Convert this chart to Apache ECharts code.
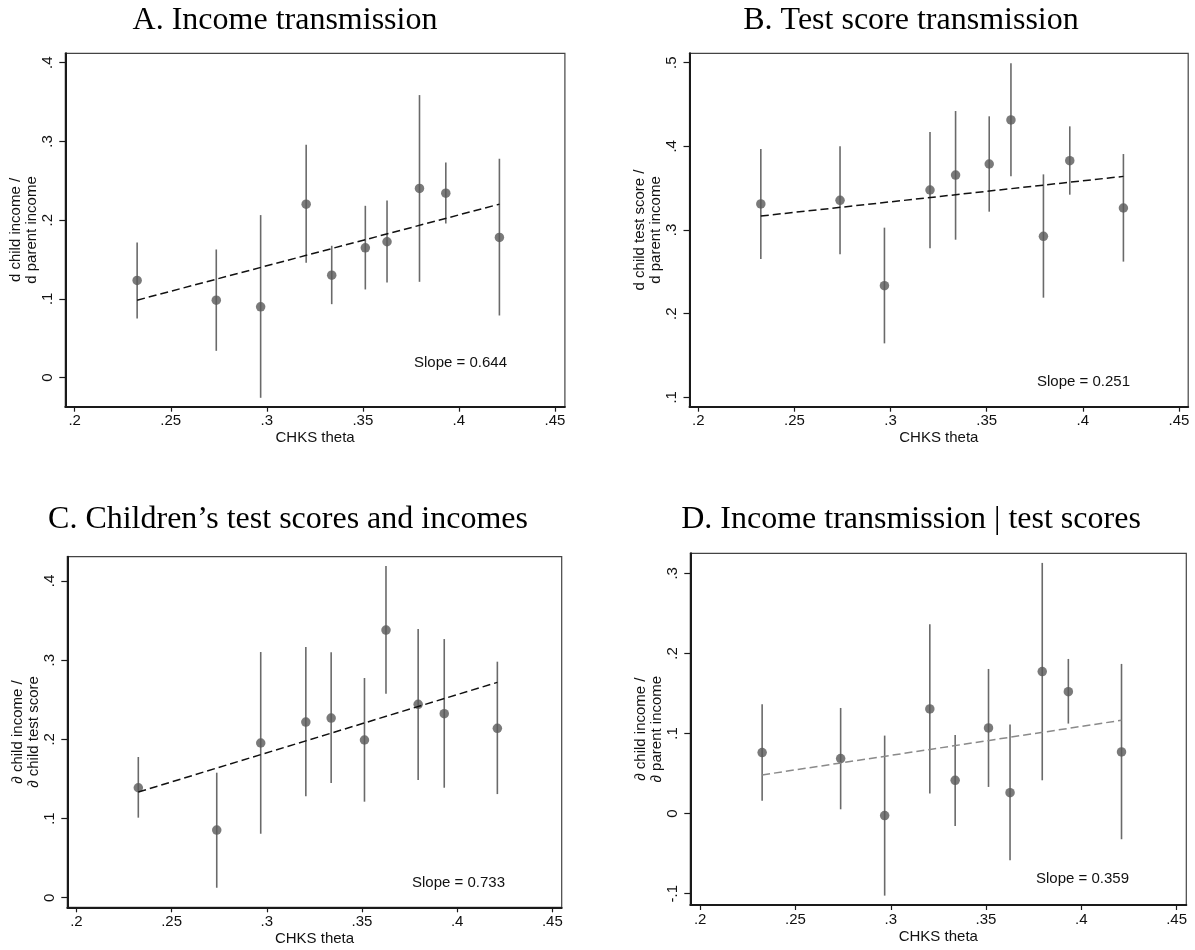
<!DOCTYPE html>
<html>
<head>
<meta charset="utf-8">
<script src="https://cdn.jsdelivr.net/npm/echarts@6/dist/echarts.min.js"></script>
<style>
html,body{margin:0;padding:0;background:#fff;}
#chart{width:1195px;height:950px;}
</style>
</head>
<body>
<div id="chart"></div>
<script>
// ---- data ----
const theta = [0.2325, 0.2737, 0.2968, 0.3205, 0.3338, 0.3513, 0.3626, 0.3795, 0.3932, 0.4211];

const incPoint = [0.1233, 0.0983, 0.0898, 0.2203, 0.1301, 0.1648, 0.1725, 0.2403, 0.2343, 0.1780];
const incLo    = [0.0750, 0.0339, -0.0258, 0.1458, 0.0932, 0.1119, 0.1208, 0.1216, 0.1958, 0.0788];
const incHi    = [0.1716, 0.1627, 0.2064, 0.2958, 0.1674, 0.2182, 0.2250, 0.3589, 0.2733, 0.2780];
const incFit   = [0.0983, 0.2203];

const testPoint = [0.3311, 0.3355, 0.2335, 0.3478, 0.3657, 0.3789, 0.4315, 0.2924, 0.3829, 0.3263];
const testLo    = [0.2653, 0.2709, 0.1645, 0.2781, 0.2884, 0.3219, 0.3641, 0.2191, 0.3422, 0.2622];
const testHi    = [0.3968, 0.4000, 0.3028, 0.4171, 0.4422, 0.4359, 0.4992, 0.3665, 0.4239, 0.3908];
const testFit   = [0.3167, 0.3641];

const scorePoint = [0.1389, 0.0855, 0.1954, 0.2219, 0.2269, 0.1992, 0.3381, 0.2442, 0.2324, 0.2139];
const scoreLo    = [0.1011, 0.0126, 0.0808, 0.1280, 0.1448, 0.1213, 0.2577, 0.1486, 0.1389, 0.1309];
const scoreHi    = [0.1777, 0.1579, 0.3103, 0.3166, 0.3099, 0.2775, 0.4189, 0.3394, 0.3267, 0.2981];
const scoreFit   = [0.1335, 0.2720];

const condPoint = [0.0762, 0.0687, -0.0025, 0.1307, 0.0416, 0.1070, 0.0262, 0.1773, 0.1523, 0.0770];
const condLo    = [0.0162, 0.0054, -0.1024, 0.0250, -0.0154, 0.0333, -0.0583, 0.0416, 0.1124, -0.0320];
const condHi    = [0.1365, 0.1319, 0.0974, 0.2364, 0.0982, 0.1806, 0.1111, 0.3130, 0.1931, 0.1869];
const condFit   = [0.0483, 0.1165];

const xTicks  = [0.2, 0.25, 0.3, 0.35, 0.4, 0.45];
const yTicksA = [0, 0.1, 0.2, 0.3, 0.4];
const yTicksB = [0.1, 0.2, 0.3, 0.4, 0.5];
const yTicksC = [0, 0.1, 0.2, 0.3, 0.4];
const yTicksD = [-0.1, 0, 0.1, 0.2, 0.3];

const titles = ['A. Income transmission', 'B. Test score transmission',
                'C. Children\u2019s test scores and incomes', 'D. Income transmission | test scores'];
const yNames = ['d child income /\nd parent income', 'd child test score /\nd parent income',
                '\u2202 child income /\n\u2202 child test score', '\u2202 child income /\n\u2202 parent income'];
const slopes = ['Slope = 0.644', 'Slope = 0.251', 'Slope = 0.733', 'Slope = 0.359'];
const xName = 'CHKS theta';

// ---- layout ----
const SANS = '"Liberation Sans", Arial, Helvetica, sans-serif';
const SERIF = '"Liberation Serif", "Times New Roman", serif';

const panels = [
  {grid:{left:65.3, top:53.3, width:499.6, height:353.4}, x:[0.1951,0.4552], y:[-0.0371,0.412], yTicks:yTicksA,
   pt:incPoint, lo:incLo, hi:incHi, fit:incFit, fitColor:'#111', title:[285,21], slope:[414,363.3]},
  {grid:{left:689.5, top:53.3, width:498.7, height:353.4}, x:[0.1954,0.4548], y:[0.0888,0.5112], yTicks:yTicksB,
   pt:testPoint, lo:testLo, hi:testHi, fit:testFit, fitColor:'#111', title:[911,21], slope:[1037,382.3]},
  {grid:{left:67.3, top:556.7, width:494.4, height:350.6}, x:[0.1952,0.4549], y:[-0.0121,0.4307], yTicks:yTicksC,
   pt:scorePoint, lo:scoreLo, hi:scoreHi, fit:scoreFit, fitColor:'#111', title:[288,519.5], slope:[412,883.3]},
  {grid:{left:690.3, top:553.3, width:496, height:351.7}, x:[0.1948,0.4551], y:[-0.1141,0.325], yTicks:yTicksD,
   pt:condPoint, lo:condLo, hi:condHi, fit:condFit, fitColor:'#8a8a8a', title:[911,519.5], slope:[1036,879]}
];

function fmt(v){
  if (Math.abs(v) < 1e-9) return '0';
  let s = String(Math.round(v*1000)/1000);
  return s.replace(/^(-?)0\./, '$1.');
}

const grid = [], xAxis = [], yAxis = [], series = [], graphic = [];

panels.forEach((p, i) => {
  grid.push(Object.assign({show:true, borderColor:'#444', borderWidth:1.2, backgroundColor:'#fff'}, p.grid));
  xAxis.push({
    type:'value', gridIndex:i, min:p.x[0], max:p.x[1],
    name:xName, nameLocation:'middle', nameGap:24,
    nameTextStyle:{fontFamily:SANS, fontSize:15, color:'#111'},
    axisLine:{show:true, onZero:false, lineStyle:{color:'#1a1a1a', width:2}},
    axisTick:{show:true, length:5, customValues:xTicks, lineStyle:{color:'#1a1a1a', width:1.2}},
    axisLabel:{show:true, customValues:xTicks, margin:7, formatter:fmt, fontFamily:SANS, fontSize:15, color:'#111'},
    splitLine:{show:false}
  });
  yAxis.push({
    type:'value', gridIndex:i, min:p.y[0], max:p.y[1],
    name:yNames[i], nameLocation:'middle', nameGap:23, nameRotate:90,
    nameTextStyle:{fontFamily:SANS, fontSize:15, color:'#111', lineHeight:16},
    axisLine:{show:true, onZero:false, lineStyle:{color:'#1a1a1a', width:2}},
    axisTick:{show:true, length:6, customValues:p.yTicks, lineStyle:{color:'#1a1a1a', width:1.2}},
    axisLabel:{show:true, customValues:p.yTicks, rotate:90, margin:10, formatter:fmt, fontFamily:SANS, fontSize:15, color:'#111'},
    splitLine:{show:false}
  });
  const ci = theta.map((t, k) => [t, p.lo[k], p.hi[k]]);
  series.push({
    type:'custom', xAxisIndex:i, yAxisIndex:i, data:ci, encode:{x:0, y:[1,2]}, silent:true,
    renderItem:(params, api) => {
      const a = api.coord([api.value(0), api.value(1)]);
      const b = api.coord([api.value(0), api.value(2)]);
      return {type:'line', shape:{x1:a[0], y1:a[1], x2:b[0], y2:b[1]}, style:{stroke:'#6a6a6a', lineWidth:1.6}};
    }
  });
  series.push({
    type:'scatter', xAxisIndex:i, yAxisIndex:i, symbol:'circle', symbolSize:9.5,
    itemStyle:{color:'#595959'}, data:theta.map((t, k) => [t, p.pt[k]]), silent:true
  });
  series.push({
    type:'line', xAxisIndex:i, yAxisIndex:i, showSymbol:false, symbol:'none', silent:true,
    lineStyle:{color:p.fitColor, width:1.5, type:[8,4]},
    data:[[theta[0], p.fit[0]], [theta[theta.length-1], p.fit[1]]]
  });
  graphic.push({type:'text', x:p.title[0], y:p.title[1],
    style:{text:titles[i], align:'center', verticalAlign:'middle', fontFamily:SERIF, fontSize:32, fill:'#000'}});
  graphic.push({type:'text', x:p.slope[0], y:p.slope[1],
    style:{text:slopes[i], align:'left', verticalAlign:'middle', fontFamily:SANS, fontSize:15, fill:'#111'}});
});

const chart = echarts.init(document.getElementById('chart'), null, {renderer:'canvas'});
chart.setOption({
  backgroundColor:'#fff',
  animation:false,
  grid, xAxis, yAxis, series, graphic
});
</script>
</body>
</html>
